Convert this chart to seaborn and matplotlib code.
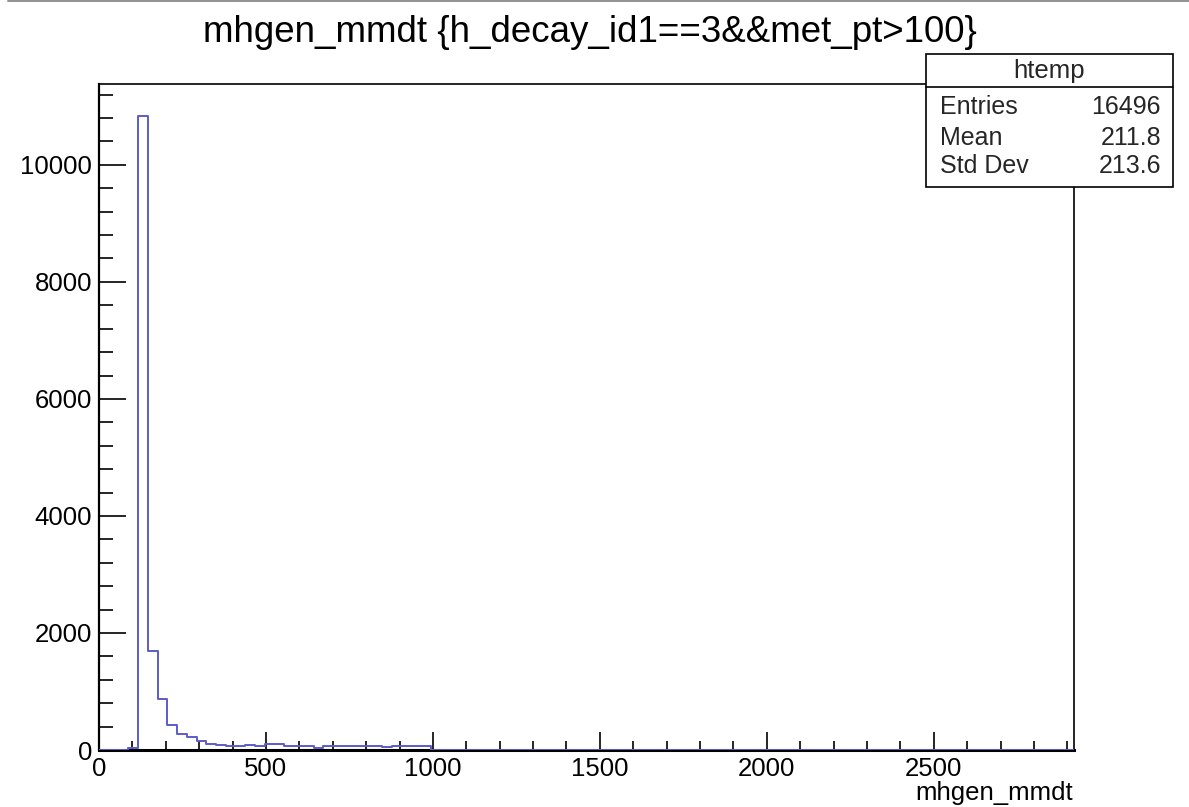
import numpy as np
import pandas as pd
import matplotlib
matplotlib.use("Agg")
import matplotlib.pyplot as plt
from matplotlib.ticker import MultipleLocator, FixedLocator
from matplotlib.patches import Rectangle
from matplotlib.lines import Line2D
import seaborn as sns

# ---- data ----
x_min, x_max, n_bins = 0.0, 2920.0, 100
counts_head = [0, 0, 0, 30, 10840, 1690, 880, 425, 275, 215, 155, 95, 90, 65, 65,
               90, 65, 95, 95, 75, 75, 65, 40, 60, 60, 60, 60, 70, 70, 45,
               60, 60, 60, 60]
counts = counts_head + [0] * (n_bins - len(counts_head))
title = "mhgen_mmdt {h_decay_id1==3&&met_pt>100}"
x_label = "mhgen_mmdt"
stats_name = "htemp"
stats_rows = [("Entries", "16496"), ("Mean", "211.8"), ("Std Dev", "213.6")]
x_ticks = [0, 500, 1000, 1500, 2000, 2500]
y_ticks = [0, 2000, 4000, 6000, 8000, 10000]

edges = np.linspace(x_min, x_max, n_bins + 1)
centers = 0.5 * (edges[:-1] + edges[1:])
df = pd.DataFrame({"x": centers, "w": counts})

sns.set_theme(style="white")
plt.rcParams["font.family"] = ["Liberation Sans", "DejaVu Sans"]

W, H = 1189, 807
fig = plt.figure(figsize=(W / 100, H / 100), dpi=100)
L, R, T, B = 99, 1074, 84, 750
ax = fig.add_axes([L / W, 1 - B / H, (R - L) / W, (B - T) / H])

sns.histplot(data=df, x="x", weights="w", bins=[float(e) for e in edges],
             element="step", fill=False, color="#5c5cc8", linewidth=1.4, ax=ax)

ax.set_xlim(x_min, x_max)
ax.set_ylim(0, max(counts) * 1.05)
ax.set_ylabel("")
ax.set_xlabel("")

ax.xaxis.set_major_locator(FixedLocator(x_ticks))
ax.yaxis.set_major_locator(FixedLocator(y_ticks))
ax.xaxis.set_minor_locator(MultipleLocator(100))
ax.yaxis.set_minor_locator(MultipleLocator(400))
ax.set_xticklabels([str(v) for v in x_ticks])
ax.set_yticklabels([str(v) for v in y_ticks])

ax.tick_params(axis="both", which="both", direction="in", color="black",
               bottom=True, left=True, top=False, right=False, labelsize=18.5,
               labelcolor="black")
ax.tick_params(axis="x", which="major", length=13, width=1.2, pad=5)
ax.tick_params(axis="x", which="minor", length=6.5, width=1.2)
ax.tick_params(axis="y", which="major", length=19.5, width=1.2, pad=5)
ax.tick_params(axis="y", which="minor", length=10, width=1.2)

for side, lw in [("left", 1.6), ("bottom", 2.2), ("top", 1.2), ("right", 1.2)]:
    ax.spines[side].set_visible(True)
    ax.spines[side].set_color("black")
    ax.spines[side].set_linewidth(lw)
    ax.spines[side].set_zorder(1)

# title
fig.text(590 / W, 1 - 32 / H, title, ha="center", va="center", fontsize=26.5,
         color="black")
# x-axis label
fig.text(1073 / W, 1 - 793 / H, x_label, ha="right", va="center", fontsize=18.5,
         color="black")

# stats box
bx0, by0, bx1, by1 = 926, 54, 1173, 187
fig.add_artist(Rectangle((bx0 / W, 1 - by1 / H), (bx1 - bx0) / W, (by1 - by0) / H,
                         transform=fig.transFigure, facecolor="white",
                         edgecolor="black", linewidth=1.2, zorder=5))
fig.add_artist(Line2D([bx0 / W, bx1 / W], [1 - 87 / H, 1 - 87 / H],
                      transform=fig.transFigure, color="black", linewidth=1.2,
                      zorder=6))
fig.text((bx0 + bx1) / 2 / W, 1 - 71 / H, stats_name, ha="center", va="center",
         fontsize=18.5, zorder=7)
row_y = [107, 138, 166]
for (name, val), yy in zip(stats_rows, row_y):
    fig.text(940 / W, 1 - yy / H, name, ha="left", va="center", fontsize=18,
             zorder=7)
    fig.text(1161 / W, 1 - yy / H, val, ha="right", va="center", fontsize=18,
             zorder=7)

# thin grey border line at the very top
fig.add_artist(Line2D([8 / W, 1.0], [1 - 0.8 / H, 1 - 0.8 / H],
                      transform=fig.transFigure, color="#909090", linewidth=1.4))

fig.savefig("out.png", dpi=100)
